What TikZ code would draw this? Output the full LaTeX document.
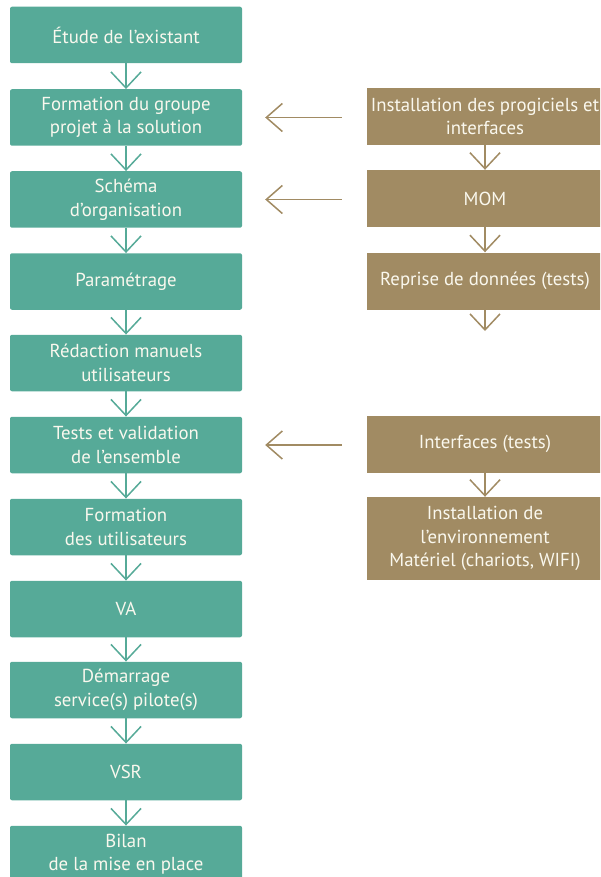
\documentclass[tikz,border=0pt]{standalone}
\usepackage{fontspec}
\setmainfont{PT Sans}
\usetikzlibrary{arrows.meta}
\definecolor{gr}{RGB}{86,170,152}
\definecolor{tan}{RGB}{161,139,99}
\definecolor{txt}{RGB}{250,248,238}
\tikzset{
  x=1pt,y=-1pt,
  box/.style={rectangle, rounded corners=2pt, text=txt, align=center,
    font=\fontsize{18.8}{23.5}\selectfont, inner sep=0pt},
  gbox/.style={box, fill=gr, minimum width=232pt, minimum height=56.5pt},
  tbox/.style={box, fill=tan, rounded corners=0pt, minimum width=236pt, minimum height=57pt},
  darr/.style={line width=1.5pt, -{Straight Barb[length=16pt,width=30pt,line width=1.5pt]}},
  garr/.style={darr, draw=gr},
  tarr/.style={darr, draw=tan},
  harr/.style={draw=tan, line width=1.5pt, -{Straight Barb[length=16pt,width=28pt,line width=1.5pt]}}
}
\begin{document}
\begin{tikzpicture}
\useasboundingbox (0,0) rectangle (600,877);
\clip (0,0) rectangle (600,877);
\node[gbox] (l1) at (126,35) {Étude de l’existant};
\node[gbox] (l2) at (126,117.5) {Formation du groupe\\projet à la solution};
\node[gbox] (l3) at (126,199.5) {Schéma\\d’organisation};
\node[gbox] (l4) at (126,281.5) {Paramétrage};
\node[gbox] (l5) at (126,363) {Rédaction manuels\\utilisateurs};
\node[gbox] (l6) at (126,445) {Tests et validation\\de l’ensemble};
\node[gbox] (l7) at (126,527) {Formation\\des utilisateurs};
\node[gbox] (l8) at (126,609) {VA};
\node[gbox] (l9) at (126,690) {Démarrage\\service(s) pilote(s)};
\node[gbox] (l10) at (126,772) {VSR};
\node[gbox] (l11) at (126,854) {Bilan\\de la mise en place};
\foreach \a/\b in {l1/l2,l2/l3,l3/l4,l4/l5,l5/l6,l6/l7,l7/l8,l8/l9,l9/l10,l10/l11}
  \draw[garr] (\a.south) -- (\b.north);

\node[tbox] (r1) at (485,116.5) {Installation des progiciels et\\interfaces};
\node[tbox] (r2) at (485,198.5) {MOM};
\node[tbox] (r3) at (485,281) {Reprise de données (tests)};
\node[tbox] (r4) at (485,444) {Interfaces (tests)};
\node[tbox, minimum height=83pt] (r5) at (485,538.5) {Installation de\\l’environnement\\Matériel (chariots, WIFI)};
\coordinate (r3end) at (485,331);
\draw[tarr] (r1.south) -- (r2.north);
\draw[tarr] (r2.south) -- (r3.north);
\draw[tarr] (r3.south) -- (r3end);
\draw[tarr] (r4.south) -- (r5.north);

\draw[harr, shorten <=25pt, shorten >=23pt] (r1.west |- l2.east) -- (l2.east);
\draw[harr, shorten <=25pt, shorten >=23pt] (r2.west |- l3.east) -- (l3.east);
\draw[harr, shorten <=25pt, shorten >=23pt] (r4.west |- l6.east) -- (l6.east);
\end{tikzpicture}
\end{document}
